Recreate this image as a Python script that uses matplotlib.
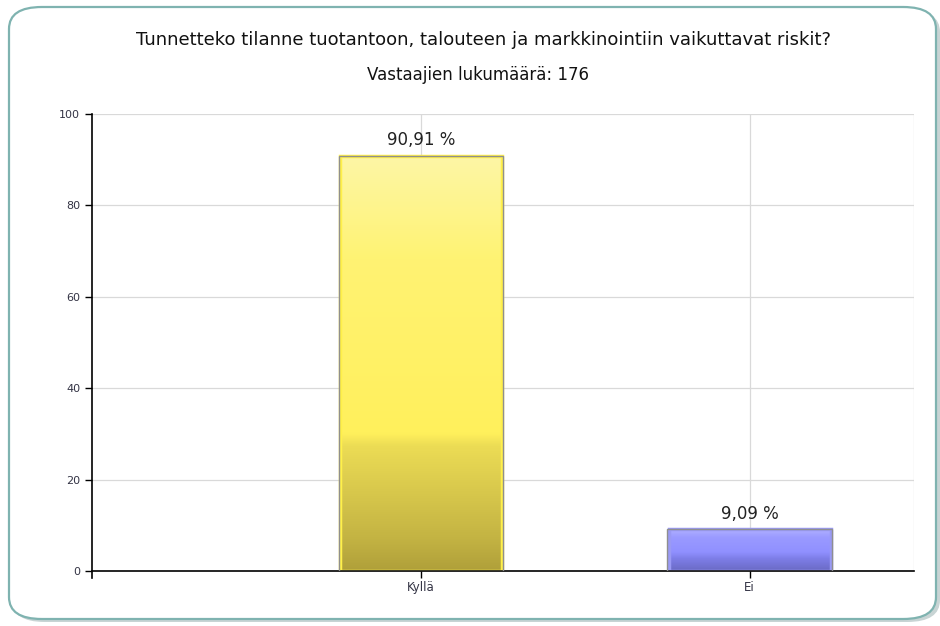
import matplotlib.pyplot as plt
import numpy as np
from matplotlib.patches import FancyBboxPatch
from matplotlib.colors import LinearSegmentedColormap

categories = ['Kyllä', 'Ei']
values = [90.91, 9.09]
labels = ['90,91 %', '9,09 %']
title = 'Tunnetteko tilanne tuotantoon, talouteen ja markkinointiin vaikuttavat riskit?'
subtitle = 'Vastaajien lukumäärä: 176'

fig = plt.figure(figsize=(9.4, 6.26), dpi=100)
fig.patch.set_facecolor('white')

# rounded frame with a bit of shadow
shadow = FancyBboxPatch((12 / 940, 4 / 626), 928 / 940, 612 / 626,
                        boxstyle='round,pad=0,rounding_size=0.035',
                        transform=fig.transFigure, fc='#c8d4d4', ec='none', zorder=-2)
frame = FancyBboxPatch((9 / 940, 7 / 626), 927 / 940, 612 / 626,
                       boxstyle='round,pad=0,rounding_size=0.035',
                       transform=fig.transFigure, fc='white', ec='#7fb3b0', lw=1.6, zorder=-1)
fig.patches.extend([shadow, frame])

fig.text(484 / 940, 1 - 40 / 626, title, ha='center', va='center', fontsize=13, color='#111111')
fig.text(478 / 940, 1 - 75 / 626, subtitle, ha='center', va='center', fontsize=12, color='#111111')

ax = fig.add_axes([92 / 940, 1 - 571 / 626, 822 / 940, 457 / 626])
ax.set_facecolor('none')
x = np.arange(1, len(categories) + 1)
ax.set_xlim(0, 2.5)
ax.set_ylim(0, 100)

for v in [20, 40, 60, 80, 100]:
    ax.axhline(v, color='#d9d9d9', lw=0.9, zorder=0)
for xi in list(x) + [2.5]:
    ax.axvline(xi, color='#d9d9d9', lw=0.9, zorder=0)

yellow = LinearSegmentedColormap.from_list('y', [(0, '#b0a03a'), (0.08, '#c4b443'), (0.3, '#ecdc55'),
                                                  (0.33, '#fff05c'), (0.75, '#fff373'), (1, '#fdf6a6')])
blue = LinearSegmentedColormap.from_list('b', [(0, '#6a6ac4'), (0.3, '#7e7ee8'), (0.45, '#9090ff'),
                                                (0.8, '#9a9aff'), (1, '#b0b0ff')])
cmaps = [yellow, blue]
edges = ['#fff04a', '#9a9af4']

bars = ax.bar(x, values, width=0.5, color='none', edgecolor='#8f8f8f', lw=1.0, zorder=3)
grad = np.linspace(0, 1, 256).reshape(-1, 1)
for b, cm, ec in zip(bars, cmaps, edges):
    x0, w, h = b.get_x(), b.get_width(), b.get_height()
    ax.imshow(grad, cmap=cm, origin='lower', aspect='auto',
              extent=[x0, x0 + w, 0, h], zorder=2)
    ax.bar(x0 + w / 2, h, width=w * 0.985, color='none', edgecolor=ec, lw=2.5, zorder=2.5)

for xi, v, lab in zip(x, values, labels):
    ax.text(xi, v + 1.5, lab, ha='center', va='bottom', fontsize=12, color='#222222')

ax.set_xticks(x)
ax.set_xticklabels(categories, fontsize=8.5, color='#333344')
ax.set_yticks([0, 20, 40, 60, 80, 100])
ax.tick_params(axis='y', labelsize=8, length=5, width=1, colors='black', labelcolor='#333344')
ax.tick_params(axis='x', length=5, width=1, pad=2)
for s in ['top', 'right']:
    ax.spines[s].set_visible(False)
ax.spines['left'].set_linewidth(1.2)
ax.spines['bottom'].set_linewidth(1.2)
ax.spines['left'].set_bounds(-1.5, 100)
ax.spines['left'].set_clip_on(False)

fig.savefig('out.png', dpi=100)
